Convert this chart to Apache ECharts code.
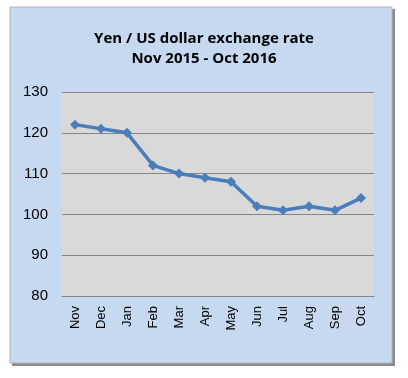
<!DOCTYPE html>
<html>
<head>
<meta charset="utf-8">
<script src="https://cdn.jsdelivr.net/npm/echarts@6/dist/echarts.min.js"></script>
<style>
  html, body { margin: 0; padding: 0; background: #fff; }
  #main { width: 408px; height: 378px; }
</style>
</head>
<body>
<div id="main"></div>
<script>
// months and rates
var months = ['Nov', 'Dec', 'Jan', 'Feb', 'Mar', 'Apr', 'May', 'Jun', 'Jul', 'Aug', 'Sep', 'Oct'];
var rates = [122, 121, 120, 112, 110, 109, 108, 102, 101, 102, 101, 104];
var titleLines = ['Yen / US dollar exchange rate', 'Nov 2015 - Oct 2016'];

var myChart = echarts.init(document.getElementById('main'));
var option = {
    backgroundColor: '#fff',
    animation: false,
    graphic: [
        // shadow on right / bottom
        { type: 'rect', shape: { x: 12, y: 9, width: 383, height: 357 }, style: { fill: '#8c8c8c' }, z: -10 },
        { type: 'rect', shape: { x: 10, y: 7, width: 382, height: 356 }, style: { fill: '#c6d9f1', stroke: '#b4b4b4', lineWidth: 1 }, z: -9 }
    ],
    title: {
        text: titleLines.join('\n'),
        left: 'center',
        top: 24,
        textStyle: {
            fontFamily: 'Open Sans',
            fontWeight: 'bold',
            fontSize: 15,
            lineHeight: 20,
            color: '#000'
        }
    },
    grid: {
        left: 62,
        top: 92,
        width: 312,
        height: 204,
        show: true,
        backgroundColor: '#d9d9d9',
        borderWidth: 0
    },
    xAxis: {
        type: 'category',
        data: months,
        boundaryGap: true,
        axisLine: { show: true, lineStyle: { color: '#868686' } },
        axisTick: { show: false },
        axisLabel: {
            rotate: 90,
            margin: 10,
            fontFamily: 'Liberation Sans',
            fontSize: 13,
            color: '#000'
        }
    },
    yAxis: {
        type: 'value',
        min: 80,
        max: 130,
        interval: 10,
        axisLine: { show: false },
        axisTick: { show: false },
        splitLine: { lineStyle: { color: '#868686', width: 1 } },
        axisLabel: {
            margin: 14,
            fontFamily: 'Liberation Sans',
            fontSize: 15,
            color: '#000'
        }
    },
    series: [{
        type: 'line',
        data: rates,
        symbol: 'diamond',
        symbolSize: 10,
        lineStyle: { color: '#4a7ebb', width: 3.5 },
        itemStyle: { color: '#4a7ebb' }
    }]
};
myChart.setOption(option);
</script>
</body>
</html>
